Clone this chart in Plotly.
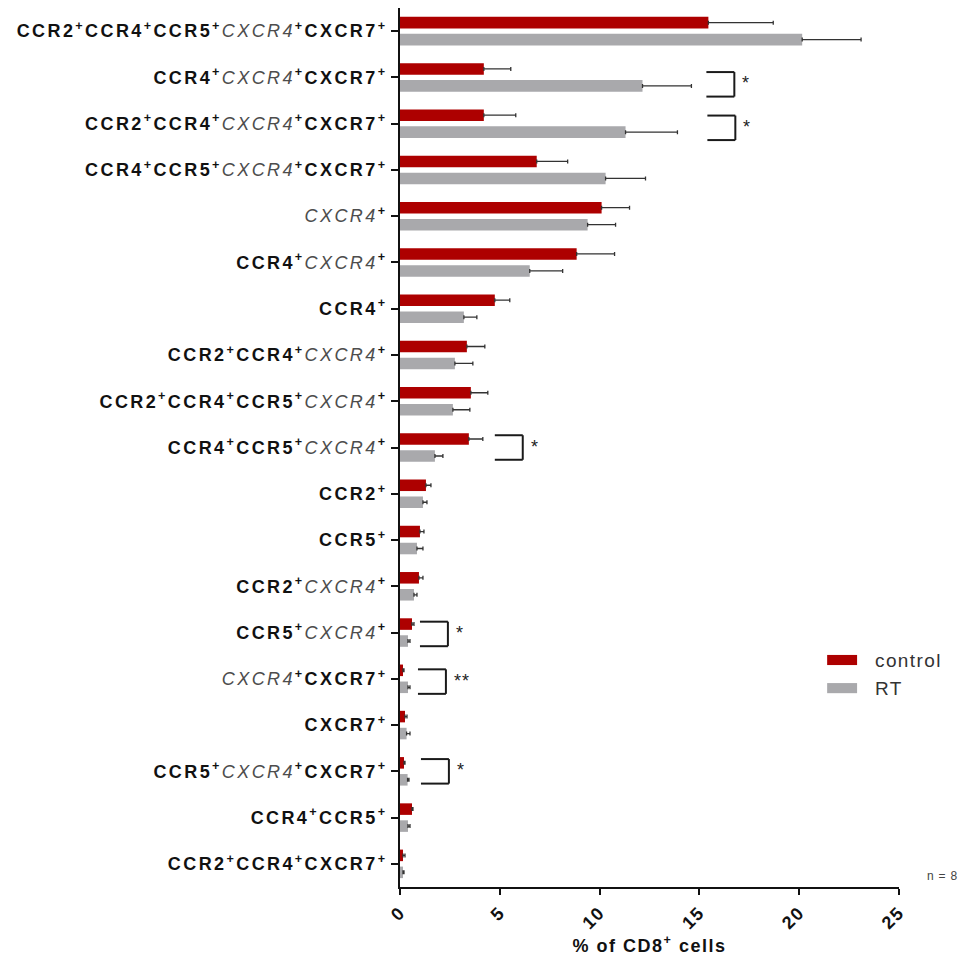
import plotly.graph_objects as go

# Chemokine receptor phenotypes of CD8+ cells (top to bottom)
categories = [
    "CCR2+CCR4+CCR5+CXCR4+CXCR7+",
    "CCR4+CXCR4+CXCR7+",
    "CCR2+CCR4+CXCR4+CXCR7+",
    "CCR4+CCR5+CXCR4+CXCR7+",
    "CXCR4+",
    "CCR4+CXCR4+",
    "CCR4+",
    "CCR2+CCR4+CXCR4+",
    "CCR2+CCR4+CCR5+CXCR4+",
    "CCR4+CCR5+CXCR4+",
    "CCR2+",
    "CCR5+",
    "CCR2+CXCR4+",
    "CCR5+CXCR4+",
    "CXCR4+CXCR7+",
    "CXCR7+",
    "CCR5+CXCR4+CXCR7+",
    "CCR4+CCR5+",
    "CCR2+CCR4+CXCR7+",
]

control_mean = [15.45, 4.2, 4.2, 6.85, 10.1, 8.85, 4.75, 3.35, 3.55, 3.45,
                1.3, 1.0, 0.95, 0.6, 0.15, 0.25, 0.2, 0.6, 0.15]
control_sem = [3.25, 1.35, 1.6, 1.55, 1.4, 1.9, 0.75, 0.9, 0.85, 0.7,
               0.25, 0.2, 0.2, 0.1, 0.05, 0.1, 0.05, 0.05, 0.1]
rt_mean = [20.15, 12.15, 11.3, 10.3, 9.4, 6.5, 3.2, 2.75, 2.65, 1.75,
           1.15, 0.85, 0.7, 0.4, 0.4, 0.33, 0.38, 0.4, 0.15]
rt_sem = [2.95, 2.45, 2.6, 2.0, 1.4, 1.65, 0.65, 0.9, 0.85, 0.4,
          0.2, 0.3, 0.15, 0.1, 0.1, 0.17, 0.07, 0.1, 0.05]

x_ticks = [0, 5, 10, 15, 20, 25]

# Significant comparisons (control vs RT)
significance = [
    ("CCR4+CXCR4+CXCR7+", "*"),
    ("CCR2+CCR4+CXCR4+CXCR7+", "*"),
    ("CCR4+CCR5+CXCR4+", "*"),
    ("CCR5+CXCR4+", "*"),
    ("CXCR4+CXCR7+", "**"),
    ("CCR5+CXCR4+CXCR7+", "*"),
]

# bracket placement: left x, vertical shift (category units)
bracket_place = {
    "CCR4+CXCR4+CXCR7+": (15.35, 0.15),
    "CCR2+CCR4+CXCR4+CXCR7+": (15.4, 0.09),
    "CCR4+CCR5+CXCR4+": (4.75, 0.0),
    "CCR5+CXCR4+": (1.0, 0.03),
    "CXCR4+CXCR7+": (0.9, 0.06),
    "CCR5+CXCR4+CXCR7+": (1.05, 0.0),
}

RED = "#ad0000"
GREY = "#a9a9ac"
FONT = "Liberation Sans, Arial, Helvetica, sans-serif"


def spaced(text, px):
    return f"<span style='letter-spacing:{px}px'>{text}</span>"


def label_html(name):
    out = ""
    for part in [p for p in name.split("+") if p]:
        if part == "CXCR4":
            out += f"<i><span style='color:#4d4d4d'>{part}</span></i>"
        else:
            out += f"<b>{part}</b>"
        out += "<b><sup>+</sup></b>"
    return spaced(out, 2.4)


fig = go.Figure()
fig.add_trace(go.Bar(
    name="control", y=categories, x=control_mean, orientation="h",
    marker=dict(color=RED, line=dict(width=0)),
    error_x=dict(type="data", array=control_sem, arrayminus=[0] * len(categories),
                 symmetric=False, color="#333333", thickness=1.3, width=2),
    showlegend=False,
))
fig.add_trace(go.Bar(
    name="RT", y=categories, x=rt_mean, orientation="h",
    marker=dict(color=GREY, line=dict(width=0)),
    error_x=dict(type="data", array=rt_sem, arrayminus=[0] * len(categories),
                 symmetric=False, color="#333333", thickness=1.3, width=2),
    showlegend=False,
))

# significance brackets
shapes = []
annotations = []
half_h = 0.265
br_w = 1.4
for cat, mark in significance:
    idx = categories.index(cat)
    x0, shift = bracket_place[cat]
    x1 = x0 + br_w
    ya, yb = idx - half_h + shift, idx + half_h + shift
    line = dict(color="#1a1a1a", width=2)
    shapes.append(dict(type="line", xref="x", yref="y", x0=x0, x1=x1, y0=ya, y1=ya, line=line))
    shapes.append(dict(type="line", xref="x", yref="y", x0=x1, x1=x1, y0=ya, y1=yb, line=line))
    shapes.append(dict(type="line", xref="x", yref="y", x0=x0, x1=x1, y0=yb, y1=yb, line=line))
    annotations.append(dict(x=x1 + 0.3, y=idx + shift - 0.02, xref="x", yref="y",
                            text=spaced(mark, 1), showarrow=False, xanchor="left",
                            yanchor="middle",
                            font=dict(family=FONT, size=18, color="#222222")))

# legend drawn as swatches + labels
for i, (nm, col) in enumerate([("control", RED), ("RT", GREY)]):
    y_top = 0.264 - i * 0.032
    shapes.append(dict(type="rect", xref="paper", yref="paper", x0=0.856, x1=0.916,
                       y0=y_top - 0.0115, y1=y_top, fillcolor=col, line=dict(width=0)))
    annotations.append(dict(x=0.948, y=y_top - 0.006, xref="paper", yref="paper",
                            text=spaced(nm, 1.4), showarrow=False, xanchor="left",
                            yanchor="middle",
                            font=dict(family=FONT, size=19, color="#333333")))

annotations.append(dict(x=1.123, y=0.012, xref="paper", yref="paper",
                        text=spaced("n = 8", 0.8),
                        showarrow=False, xanchor="right", yanchor="middle",
                        font=dict(family=FONT, size=12, color="#444444")))

fig.update_layout(
    width=971, height=963,
    margin=dict(l=400, r=72, t=8, b=76),
    paper_bgcolor="white", plot_bgcolor="white",
    barmode="group", bargap=0.266, bargroupgap=0.32,
    font=dict(family=FONT, color="#111111"),
    shapes=shapes, annotations=annotations,
    xaxis=dict(
        range=[0, 25], tickvals=x_ticks,
        ticktext=[spaced(f"<b>{v}</b>", 1.5) for v in x_ticks],
        tickangle=-45, tickfont=dict(family=FONT, size=18, color="#111111"),
        showline=True, linecolor="#111111", linewidth=2,
        ticks="outside", ticklen=6, tickwidth=2, tickcolor="#111111",
        showgrid=False, zeroline=False,
        title=dict(text=spaced("<b>% of CD8<sup>+</sup> cells</b>", 1.5),
                   font=dict(family=FONT, size=18, color="#111111"), standoff=6),
    ),
    yaxis=dict(
        type="category", categoryorder="array", categoryarray=categories,
        tickvals=categories, ticktext=[label_html(c) for c in categories],
        autorange="reversed",
        tickfont=dict(family=FONT, size=18, color="#111111"),
        showline=True, linecolor="#111111", linewidth=2,
        ticks="outside", ticklen=7, tickwidth=2, tickcolor="#111111",
        showgrid=False, zeroline=False,
    ),
)

fig.write_html("out.html")
